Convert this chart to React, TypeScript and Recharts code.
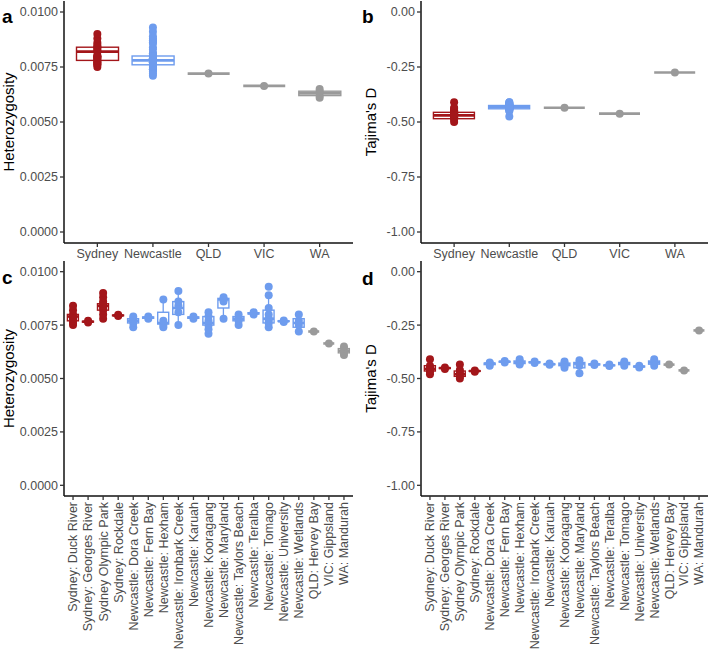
import { ComposedChart, Bar, Scatter, XAxis, YAxis } from "recharts";

const FONT = '"Liberation Sans", Arial, Helvetica, sans-serif';
const RED = "#A3161A";
const BLUE = "#6E9CEE";
const GREY = "#9A9A9A";
const TEXT = "#4D4D4D";
const TICK_SIZE = 12.5;

const regionColor: Record<string, string> = {
  Sydney: RED,
  Newcastle: BLUE,
  QLD: GREY,
  VIC: GREY,
  WA: GREY,
};

const regions = ["Sydney", "Newcastle", "QLD", "VIC", "WA"];

const sites = [
  "Sydney: Duck River",
  "Sydney: Georges River",
  "Sydney Olympic Park",
  "Sydney: Rockdale",
  "Newcastle: Dora Creek",
  "Newcastle: Fern Bay",
  "Newcastle: Hexham",
  "Newcastle: Ironbark Creek",
  "Newcastle: Karuah",
  "Newcastle: Kooragang",
  "Newcastle: Maryland",
  "Newcastle: Taylors Beach",
  "Newcastle: Teralba",
  "Newcastle: Tomago",
  "Newcastle: University",
  "Newcastle: Wetlands",
  "QLD: Hervey Bay",
  "VIC: Gippsland",
  "WA: Mandurah",
];

const siteRegion = [
  "Sydney", "Sydney", "Sydney", "Sydney",
  "Newcastle", "Newcastle", "Newcastle", "Newcastle", "Newcastle", "Newcastle",
  "Newcastle", "Newcastle", "Newcastle", "Newcastle", "Newcastle", "Newcastle",
  "QLD", "VIC", "WA",
];

// per-individual values for each site
const hetSitePoints = [
  [0.0075, 0.0076, 0.0077, 0.0078, 0.0079, 0.008, 0.0082, 0.0084],
  [0.00762, 0.0077],
  [0.0078, 0.008, 0.0082, 0.0083, 0.0084, 0.0085, 0.0086, 0.0088, 0.009],
  [0.00792, 0.00798],
  [0.0074, 0.0076, 0.0077, 0.0078, 0.0079],
  [0.0078, 0.0079],
  [0.0074, 0.0075, 0.0077, 0.0087],
  [0.0075, 0.0081, 0.0084, 0.0086, 0.0091],
  [0.0078, 0.0079],
  [0.0071, 0.0073, 0.0075, 0.0077, 0.0079, 0.0081],
  [0.0078, 0.0086, 0.0087, 0.0088],
  [0.0075, 0.0077, 0.0078, 0.008],
  [0.008, 0.0081],
  [0.0074, 0.0076, 0.0077, 0.0078, 0.008, 0.0083, 0.0089, 0.0093],
  [0.00765, 0.00772],
  [0.0072, 0.0075, 0.0077, 0.008],
  [0.0072],
  [0.00664],
  [0.0061, 0.0062, 0.0064, 0.0065],
];

const tajSitePoints = [
  [-0.41, -0.44, -0.45, -0.455, -0.46, -0.47, -0.48],
  [-0.448, -0.455],
  [-0.435, -0.46, -0.47, -0.48, -0.49, -0.5],
  [-0.462, -0.468],
  [-0.425, -0.43, -0.44],
  [-0.418, -0.425],
  [-0.41, -0.42, -0.43, -0.435],
  [-0.42, -0.428],
  [-0.43, -0.436],
  [-0.42, -0.43, -0.44, -0.45],
  [-0.415, -0.43, -0.44, -0.475],
  [-0.43, -0.437],
  [-0.435, -0.442],
  [-0.42, -0.43, -0.44],
  [-0.44, -0.448],
  [-0.41, -0.425, -0.44],
  [-0.435],
  [-0.462],
  [-0.275],
];

// [lower whisker, Q1, median, Q3, upper whisker]
type Box = number[];

const hetRegionBox: Box[] = [
  [0.0075, 0.0078, 0.0082, 0.0084, 0.009],
  [0.0071, 0.0076, 0.0078, 0.008, 0.0086],
  [0.0072, 0.0072, 0.0072, 0.0072, 0.0072],
  [0.00664, 0.00664, 0.00664, 0.00664, 0.00664],
  [0.0061, 0.0062, 0.0063, 0.0064, 0.0065],
];

const hetSiteBox: Box[] = [
  [0.0075, 0.0077, 0.0079, 0.008, 0.0084],
  [0.00762, 0.00764, 0.00766, 0.00768, 0.0077],
  [0.0078, 0.0082, 0.0084, 0.0085, 0.009],
  [0.00792, 0.00794, 0.00795, 0.00797, 0.00798],
  [0.0074, 0.0076, 0.0077, 0.0078, 0.0079],
  [0.0078, 0.00782, 0.00785, 0.00788, 0.0079],
  [0.0074, 0.00755, 0.0076, 0.0081, 0.0087],
  [0.0075, 0.008, 0.0083, 0.0086, 0.0091],
  [0.0078, 0.00782, 0.00785, 0.00788, 0.0079],
  [0.0071, 0.0075, 0.0076, 0.0079, 0.0081],
  [0.0078, 0.0083, 0.0087, 0.00875, 0.0088],
  [0.0075, 0.0077, 0.0078, 0.0079, 0.008],
  [0.008, 0.00802, 0.00805, 0.00808, 0.0081],
  [0.0074, 0.0076, 0.0078, 0.0082, 0.0089],
  [0.00765, 0.00767, 0.00768, 0.0077, 0.00772],
  [0.0072, 0.0074, 0.0076, 0.0078, 0.008],
  [0.0072, 0.0072, 0.0072, 0.0072, 0.0072],
  [0.00664, 0.00664, 0.00664, 0.00664, 0.00664],
  [0.0061, 0.0062, 0.0063, 0.0064, 0.0065],
];

const tajRegionBox: Box[] = [
  [-0.5, -0.485, -0.47, -0.456, -0.41],
  [-0.455, -0.44, -0.432, -0.425, -0.41],
  [-0.435, -0.435, -0.435, -0.435, -0.435],
  [-0.462, -0.462, -0.462, -0.462, -0.462],
  [-0.275, -0.275, -0.275, -0.275, -0.275],
];

const tajSiteBox: Box[] = [
  [-0.48, -0.465, -0.455, -0.44, -0.41],
  [-0.455, -0.453, -0.451, -0.45, -0.448],
  [-0.5, -0.49, -0.48, -0.465, -0.435],
  [-0.468, -0.466, -0.465, -0.464, -0.462],
  [-0.44, -0.435, -0.43, -0.428, -0.425],
  [-0.425, -0.423, -0.421, -0.42, -0.418],
  [-0.435, -0.43, -0.425, -0.418, -0.41],
  [-0.428, -0.426, -0.424, -0.422, -0.42],
  [-0.436, -0.435, -0.433, -0.432, -0.43],
  [-0.45, -0.44, -0.435, -0.428, -0.42],
  [-0.475, -0.45, -0.43, -0.425, -0.415],
  [-0.437, -0.436, -0.434, -0.432, -0.43],
  [-0.442, -0.44, -0.438, -0.437, -0.435],
  [-0.44, -0.435, -0.43, -0.425, -0.42],
  [-0.448, -0.446, -0.444, -0.442, -0.44],
  [-0.44, -0.433, -0.425, -0.418, -0.41],
  [-0.435, -0.435, -0.435, -0.435, -0.435],
  [-0.462, -0.462, -0.462, -0.462, -0.462],
  [-0.275, -0.275, -0.275, -0.275, -0.275],
];

const hetTicks = [0, 0.0025, 0.005, 0.0075, 0.01];
const tajTicks = [-1, -0.75, -0.5, -0.25, 0];

// region-level points are the pooled site values
const poolByRegion = (pts: number[][]) =>
  regions.map((r) => pts.filter((_, i) => siteRegion[i] === r).flat());

const boxRows = (names: string[], groups: string[], boxes: Box[]) =>
  names.map((name, i) => {
    const [lo, q1, med, q3, hi] = boxes[i];
    return { name, region: groups[i], lo, q1, med, q3, hi };
  });

const pointRows = (names: string[], groups: string[], pts: number[][]) =>
  pts.flatMap((vs, i) => vs.map((v) => ({ name: names[i], region: groups[i], v })));

// bar spans the whiskers; box and median are placed inside it on the same linear scale
const BoxShape = (props: any) => {
  const { x, y, width, height, payload } = props;
  if (x == null || y == null) return null;
  const { lo, q1, med, q3, hi, region } = payload;
  const color = regionColor[region];
  const top = Math.min(y, y + height);
  const h = Math.abs(height);
  const span = hi - lo;
  const py = (v: number) => (span > 0 ? top + (h * (hi - v)) / span : top);
  const cx = x + width / 2;
  return (
    <g>
      <line x1={cx} x2={cx} y1={py(hi)} y2={py(q3)} stroke={color} strokeWidth={1.3} />
      <line x1={cx} x2={cx} y1={py(q1)} y2={py(lo)} stroke={color} strokeWidth={1.3} />
      <rect
        x={x}
        y={py(q3)}
        width={width}
        height={Math.max(py(q1) - py(q3), 0)}
        fill="#fff"
        stroke={color}
        strokeWidth={1.4}
      />
      <line x1={x} x2={x + width} y1={py(med)} y2={py(med)} stroke={color} strokeWidth={2.6} />
    </g>
  );
};

const SiteTick = (p: any) => (
  <text
    x={p.x}
    y={p.y}
    dy="0.35em"
    textAnchor="end"
    transform={`rotate(-90, ${p.x}, ${p.y})`}
    fill={TEXT}
    fontSize={TICK_SIZE}
    fontFamily={FONT}
  >
    {p.payload.value}
  </text>
);

interface PanelProps {
  left: number;
  top: number;
  height: number;
  marginTop: number;
  yAxisWidth: number;
  xAxisHeight: number;
  rows: any[];
  points: any[];
  domain: [number, number];
  ticks: number[];
  digits: number;
  title: string;
  titleX: number;
  rotate?: boolean;
}

function Panel(p: PanelProps) {
  const width = 354;
  const marginRight = 1;
  const plotW = width - p.yAxisWidth - marginRight;
  const pad = (plotW * 0.1) / (p.rows.length + 0.2);
  return (
    <div style={{ position: "absolute", left: p.left, top: p.top }}>
      <ComposedChart
        width={width}
        height={p.height}
        data={p.rows}
        margin={{ top: p.marginTop, right: marginRight, bottom: 0, left: 0 }}
        barCategoryGap="12.5%"
      >
        <XAxis
          dataKey="name"
          type="category"
          allowDuplicatedCategory={false}
          interval={0}
          height={p.xAxisHeight}
          padding={{ left: pad, right: pad }}
          axisLine={{ stroke: "#111", strokeWidth: 1.5 }}
          tickLine={{ stroke: "#333", strokeWidth: 1.3 }}
          tickSize={4}
          tick={p.rotate ? <SiteTick /> : { fill: TEXT, fontSize: TICK_SIZE, fontFamily: FONT }}
        />
        <YAxis
          type="number"
          domain={p.domain}
          ticks={p.ticks}
          allowDataOverflow
          width={p.yAxisWidth}
          axisLine={{ stroke: "#111", strokeWidth: 1.5 }}
          tickLine={{ stroke: "#333", strokeWidth: 1.3 }}
          tickSize={4}
          tick={{ fill: TEXT, fontSize: TICK_SIZE, fontFamily: FONT }}
          tickFormatter={(v: number) => v.toFixed(p.digits)}
          label={{
            content: (lp: any) => {
              const vb = lp.viewBox || {};
              const cy = (vb.y ?? 0) + (vb.height ?? 0) / 2;
              return (
                <text
                  x={p.titleX}
                  y={cy}
                  dy="0.35em"
                  textAnchor="middle"
                  transform={`rotate(-90, ${p.titleX}, ${cy})`}
                  fill="#000"
                  fontSize={15}
                  fontFamily={FONT}
                >
                  {p.title}
                </text>
              );
            },
          }}
        />
        <Bar
          dataKey={(d: any) => [d.lo, d.hi]}
          shape={BoxShape}
          isAnimationActive={false}
        />
        <Scatter
          data={p.points}
          dataKey="v"
          isAnimationActive={false}
          shape={(sp: any) => (
            <circle cx={sp.cx} cy={sp.cy} r={4} fill={regionColor[sp.payload.region]} />
          )}
        />
      </ComposedChart>
    </div>
  );
}

const hetDomain: [number, number] = [-0.0005, 0.0105];
const tajDomain: [number, number] = [-1.05, 0.05];

export default function App() {
  return (
    <div
      style={{
        position: "absolute",
        left: 0,
        top: 0,
        width: 709,
        height: 653,
        background: "#fff",
        overflow: "hidden",
      }}
    >
      <Panel
        left={0}
        top={0}
        height={266}
        marginTop={1}
        yAxisWidth={64}
        xAxisHeight={23}
        rows={boxRows(regions, regions, hetRegionBox)}
        points={pointRows(regions, regions, poolByRegion(hetSitePoints))}
        domain={hetDomain}
        ticks={hetTicks}
        digits={4}
        title="Heterozygosity"
        titleX={9}
      />
      <Panel
        left={355}
        top={0}
        height={266}
        marginTop={1}
        yAxisWidth={66}
        xAxisHeight={23}
        rows={boxRows(regions, regions, tajRegionBox)}
        points={pointRows(regions, regions, poolByRegion(tajSitePoints))}
        domain={tajDomain}
        ticks={tajTicks}
        digits={2}
        title="Tajima's D"
        titleX={16}
      />
      <Panel
        left={0}
        top={255}
        height={398}
        marginTop={6}
        yAxisWidth={64}
        xAxisHeight={157}
        rows={boxRows(sites, siteRegion, hetSiteBox)}
        points={pointRows(sites, siteRegion, hetSitePoints)}
        domain={hetDomain}
        ticks={hetTicks}
        digits={4}
        title="Heterozygosity"
        titleX={9}
        rotate
      />
      <Panel
        left={355}
        top={255}
        height={398}
        marginTop={6}
        yAxisWidth={66}
        xAxisHeight={157}
        rows={boxRows(sites, siteRegion, tajSiteBox)}
        points={pointRows(sites, siteRegion, tajSitePoints)}
        domain={tajDomain}
        ticks={tajTicks}
        digits={2}
        title="Tajima's D"
        titleX={16}
        rotate
      />
      <svg
        width={709}
        height={653}
        style={{ position: "absolute", left: 0, top: 0, pointerEvents: "none" }}
      >
        <g fontFamily={FONT} fontWeight="bold" fontSize={19} fill="#000">
          <text x={2} y={23}>a</text>
          <text x={362} y={23}>b</text>
          <text x={2} y={284}>c</text>
          <text x={362} y={285}>d</text>
        </g>
      </svg>
    </div>
  );
}
